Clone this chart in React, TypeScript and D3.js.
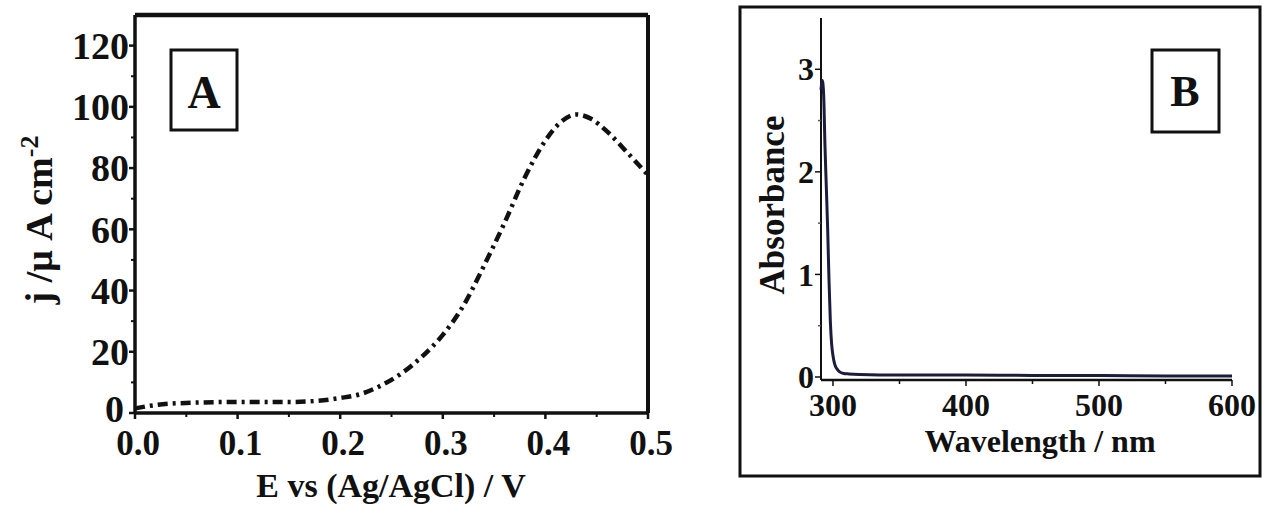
import React from 'react';
import * as d3 from 'd3';

// panel A: current density vs potential
const potential = [0, 0.02, 0.043, 0.1, 0.152, 0.2, 0.22, 0.24, 0.26, 0.28, 0.3, 0.32, 0.34, 0.36, 0.38, 0.4, 0.415, 0.43, 0.445, 0.46, 0.48, 0.5];
const current = [1.5, 2.6, 3.2, 3.6, 3.6, 4.9, 6.2, 9, 13, 18.5, 25.5, 35, 48, 62, 77, 89, 95, 97.5, 96, 92, 85, 77.7];
const aYTicks = [0, 20, 40, 60, 80, 100, 120];
const aXTicks = [0, 0.1, 0.2, 0.3, 0.4, 0.5];

// panel B: UV-vis absorbance
const wavelength = [291, 292, 293, 294, 295, 296, 297, 298, 299, 300, 301, 302, 303, 305, 308, 312, 320, 350, 400, 450, 500, 550, 600];
const absorbance = [2.8, 2.89, 2.75, 2.25, 1.85, 1.45, 0.95, 0.55, 0.32, 0.21, 0.14, 0.1, 0.08, 0.05, 0.035, 0.03, 0.025, 0.02, 0.02, 0.015, 0.015, 0.01, 0.01];
const bYTicks = [0, 1, 2, 3];
const bXTicks = [300, 400, 500, 600];

const font = '"Liberation Serif", "Times New Roman", serif';

function PanelA() {
  const x = d3.scaleLinear().domain([0, 0.5]).range([135, 648]);
  const y = d3.scaleLinear().domain([0, 130]).range([413, 15]);
  const line = d3.line<number>()
    .x((d, i) => x(potential[i]))
    .y((d) => y(d))
    .curve(d3.curveMonotoneX);
  const minorY = d3.range(10, 130, 20);
  const minorX = d3.range(0.05, 0.5, 0.1);
  return (
    <g fontFamily={font} fontWeight="bold" fill="#111">
      <path d={line(current) || ''} fill="none" stroke="#111" strokeWidth={4.5}
        strokeDasharray="10 5 3 5" />
      <line x1={135} x2={648} y1={15} y2={15} stroke="#111" strokeWidth={4.5} />
      <line x1={648} x2={648} y1={15} y2={413} stroke="#111" strokeWidth={4} />
      <line x1={135} x2={135} y1={15} y2={413} stroke="#111" strokeWidth={3.5} />
      <line x1={135} x2={648} y1={413} y2={413} stroke="#111" strokeWidth={3.5} />
      {aYTicks.map((t) => (
        <g key={'y' + t}>
          <line x1={129} x2={135} y1={y(t)} y2={y(t)} stroke="#111" strokeWidth={2.5} />
          <text x={t === 0 ? 124 : 129} y={y(t) - (t === 0 ? 4 : 0)} dy="0.35em" textAnchor="end" fontSize={38}>{t}</text>
        </g>
      ))}
      {minorY.map((t) => (
        <line key={'my' + t} x1={131} x2={135} y1={y(t)} y2={y(t)} stroke="#111" strokeWidth={2} />
      ))}
      {aXTicks.map((t) => (
        <g key={'x' + t}>
          <line x1={x(t)} x2={x(t)} y1={413} y2={419} stroke="#111" strokeWidth={2.5} />
          <text x={x(t) + 3} y={455} textAnchor="middle" fontSize={35}>{d3.format('.1f')(t)}</text>
        </g>
      ))}
      {minorX.map((t) => (
        <line key={'mx' + t} x1={x(t)} x2={x(t)} y1={413} y2={417} stroke="#111" strokeWidth={2} />
      ))}
      <text x={391} y={497} textAnchor="middle" fontSize={34}>E vs (Ag/AgCl) / V</text>
      <text transform="translate(52,220) rotate(-90)" textAnchor="middle" fontSize={38}>
        j /μ A cm<tspan dy={-14} fontSize={26}>-2</tspan>
      </text>
      <rect x={171} y={50} width={66} height={80} fill="white" stroke="#111" strokeWidth={3} />
      <text x={204} y={108} textAnchor="middle" fontSize={46}>A</text>
    </g>
  );
}

function PanelB() {
  const x = d3.scaleLinear().domain([291, 600]).range([821, 1232]);
  const y = d3.scaleLinear().domain([0, 3.5]).range([377, 18]);
  const line = d3.line<number>()
    .x((d, i) => x(wavelength[i]))
    .y((d) => y(d))
    .curve(d3.curveMonotoneX);
  const minorY = [0.5, 1.5, 2.5];
  const minorX = [350, 450, 550];
  return (
    <g fontFamily={font} fontWeight="bold" fill="#111">
      <rect x={740} y={7} width={520} height={469} fill="none" stroke="#111" strokeWidth={3} />
      <line x1={821} x2={821} y1={18} y2={380} stroke="#111" strokeWidth={2} />
      <line x1={821} x2={1232} y1={380} y2={380} stroke="#111" strokeWidth={2.5} />
      <path d={line(absorbance) || ''} fill="none" stroke="#1c1c3e" strokeWidth={3} />
      {bYTicks.map((t) => (
        <g key={'y' + t}>
          <line x1={815} x2={821} y1={y(t)} y2={y(t)} stroke="#111" strokeWidth={1.5} />
          <text x={814} y={y(t)} dy="0.35em" textAnchor="end" fontSize={32}>{t}</text>
        </g>
      ))}
      {minorY.map((t) => (
        <line key={'my' + t} x1={818} x2={821} y1={y(t)} y2={y(t)} stroke="#555" strokeWidth={1.5} />
      ))}
      {bXTicks.map((t) => (
        <g key={'x' + t}>
          <line x1={x(t)} x2={x(t)} y1={380} y2={386} stroke="#111" strokeWidth={1.5} />
          <text x={x(t)} y={416} textAnchor="middle" fontSize={32}>{t}</text>
        </g>
      ))}
      {minorX.map((t) => (
        <line key={'mx' + t} x1={x(t)} x2={x(t)} y1={380} y2={384} stroke="#111" strokeWidth={1.5} />
      ))}
      <text transform="translate(784,205) rotate(-90)" textAnchor="middle" fontSize={35}>Absorbance</text>
      <text x={1040} y={452} textAnchor="middle" fontSize={32}>Wavelength / nm</text>
      <rect x={1152} y={50} width={67} height={82} fill="white" stroke="#111" strokeWidth={3} />
      <text x={1185} y={106} textAnchor="middle" fontSize={44}>B</text>
    </g>
  );
}

export default function App() {
  return (
    <svg width={1262} height={505} style={{ position: 'absolute', left: 0, top: 0, background: 'white' }}>
      <PanelA />
      <PanelB />
    </svg>
  );
}
